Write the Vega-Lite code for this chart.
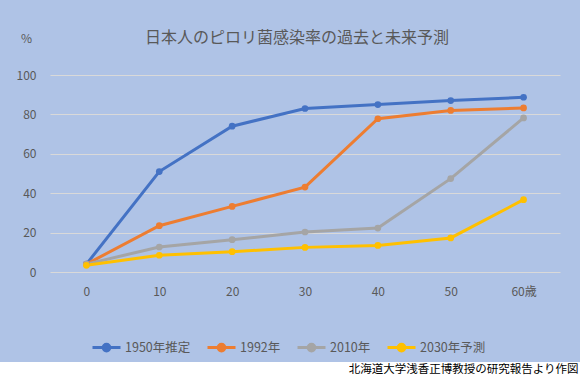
{
  "$schema": "https://vega.github.io/schema/vega-lite/v6.json",
  "width": 510,
  "height": 197,
  "autosize": {"type": "none"},
  "padding": {"left": 50, "top": 75, "right": 20, "bottom": 105},
  "background": "#AFC3E6",
  "config": {
    "font": "Noto Sans CJK JP",
    "view": {"stroke": null},
    "axisY": {
      "values": [0, 20, 40, 60, 80, 100],
      "tickCount": 6,
      "labelOverlap": false,
      "grid": true,
      "gridColor": "#D9D9D9",
      "gridWidth": 1,
      "domain": false,
      "ticks": false,
      "labelPadding": 14,
      "labelFontSize": 12,
      "labelColor": "#595959",
      "titleAngle": 0,
      "titleX": -24,
      "titleY": -37,
      "titleAlign": "center",
      "titleBaseline": "middle",
      "titleColor": "#595959",
      "titleFontSize": 12,
      "titleFontWeight": "normal"
    }
  },
  "title": {
    "text": "日本人のピロリ菌感染率の過去と未来予測",
    "fontSize": 16,
    "fontWeight": "normal",
    "color": "#595959",
    "anchor": "middle",
    "frame": "group",
    "dx": -8,
    "offset": -14,
    "zindex": 1
  },
  "data": {
    "values": [
      {"age": 0, "series": "1950年推定", "value": 4},
      {"age": 10, "series": "1950年推定", "value": 51},
      {"age": 20, "series": "1950年推定", "value": 74},
      {"age": 30, "series": "1950年推定", "value": 83},
      {"age": 40, "series": "1950年推定", "value": 85},
      {"age": 50, "series": "1950年推定", "value": 87},
      {"age": 60, "series": "1950年推定", "value": 88.7},
      {"age": 0, "series": "1992年", "value": 4},
      {"age": 10, "series": "1992年", "value": 23.5},
      {"age": 20, "series": "1992年", "value": 33.3},
      {"age": 30, "series": "1992年", "value": 43.1},
      {"age": 40, "series": "1992年", "value": 77.8},
      {"age": 50, "series": "1992年", "value": 82},
      {"age": 60, "series": "1992年", "value": 83.3},
      {"age": 0, "series": "2010年", "value": 4},
      {"age": 10, "series": "2010年", "value": 12.7},
      {"age": 20, "series": "2010年", "value": 16.4},
      {"age": 30, "series": "2010年", "value": 20.3},
      {"age": 40, "series": "2010年", "value": 22.3},
      {"age": 50, "series": "2010年", "value": 47.4},
      {"age": 60, "series": "2010年", "value": 78.2},
      {"age": 0, "series": "2030年予測", "value": 3.4},
      {"age": 10, "series": "2030年予測", "value": 8.5},
      {"age": 20, "series": "2030年予測", "value": 10.3},
      {"age": 30, "series": "2030年予測", "value": 12.5},
      {"age": 40, "series": "2030年予測", "value": 13.5},
      {"age": 50, "series": "2030年予測", "value": 17.3},
      {"age": 60, "series": "2030年予測", "value": 36.7}
    ]
  },
  "layer": [
    {
      "mark": {"type": "rect", "color": "white"},
      "encoding": {
        "x": {"datum": -12},
        "x2": {"datum": 70},
        "y": {"datum": -45.7},
        "y2": {"datum": -60}
      }
    },
    {
      "mark": {"type": "line", "strokeWidth": 3, "point": {"filled": true, "size": 45, "opacity": 1}},
      "encoding": {
        "x": {
          "field": "age",
          "type": "quantitative",
          "scale": {"domain": [-5, 65], "nice": false, "zero": false},
          "axis": {
            "values": [0, 10, 20, 30, 40, 50, 60],
            "labelExpr": "datum.value == 60 ? '60歳' : datum.label",
            "labelOverlap": false,
            "grid": false,
            "domain": false,
            "ticks": false,
            "labelPadding": 14,
            "labelFontSize": 12,
            "labelColor": "#595959",
            "title": "北海道大学浅香正博教授の研究報告より作図",
            "titleX": 528,
            "titleY": 97,
            "titleAlign": "right",
            "titleBaseline": "middle",
            "titleColor": "black",
            "titleFontSize": 11.5,
            "titleFontWeight": "normal",
            "zindex": 1
          }
        },
        "y": {
          "field": "value",
          "type": "quantitative",
          "scale": {"domain": [0, 100], "nice": false},
          "title": "%"
        },
        "color": {
          "field": "series",
          "type": "nominal",
          "scale": {
            "domain": ["1950年推定", "1992年", "2010年", "2030年予測"],
            "range": ["#4472C4", "#ED7D31", "#A5A5A5", "#FFC000"]
          },
          "legend": {
            "title": null,
            "orient": "none",
            "legendX": 41,
            "legendY": 257,
            "direction": "horizontal",
            "symbolType": "M-1,0H1M-0.24,0a0.24,0.24 0 1,0 0.48,0a0.24,0.24 0 1,0 -0.48,0",
            "symbolSize": 784,
            "symbolStrokeWidth": 3,
            "labelFontSize": 12.5,
            "labelColor": "#595959",
            "labelOffset": 3,
            "columnPadding": 10,
            "zindex": 1,
            "encode": {
              "symbols": {
                "update": {
                  "fill": {"scale": "color", "field": "value"},
                  "stroke": {"scale": "color", "field": "value"},
                  "strokeWidth": {"value": 3},
                  "opacity": {"value": 1}
                }
              }
            }
          }
        }
      }
    }
  ]
}
